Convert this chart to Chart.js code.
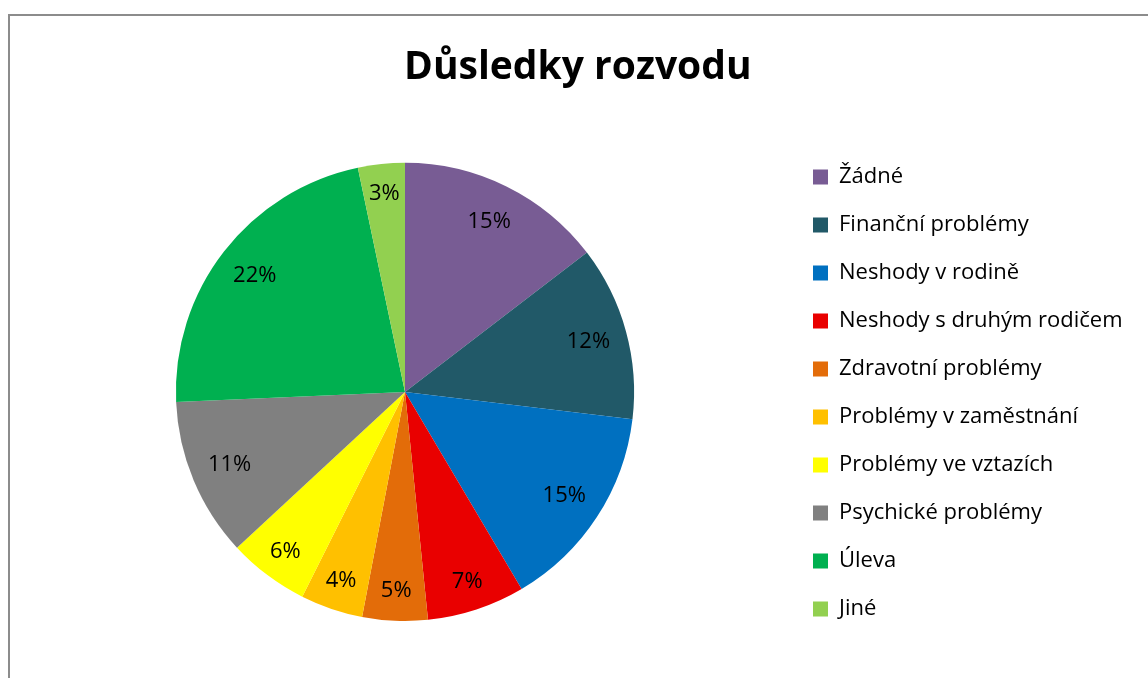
<!DOCTYPE html>
<html>
<head>
<meta charset="utf-8">
<title>Důsledky rozvodu</title>
<script src="https://cdn.jsdelivr.net/npm/chart.js@4.4.1/dist/chart.umd.min.js"></script>
<style>
  html, body { margin: 0; padding: 0; background: #fff; overflow: hidden; }
  #frame { position: absolute; left: 8px; top: 14px; width: 1200px; height: 800px; border: 2px solid #8c8c8c; }
  /* canvas runs past the window bottom so the full-height legend centres on the pie */
  #wrap { position: absolute; left: 0; top: 0; width: 1148px; height: 786px; }
</style>
</head>
<body>
<div id="frame"></div>
<div id="wrap"><canvas id="chart"></canvas></div>
<script>
  // categories + shares (percent)
  const labels = [
    'Žádné',
    'Finanční problémy',
    'Neshody v rodině',
    'Neshody s druhým rodičem',
    'Zdravotní problémy',
    'Problémy v zaměstnání',
    'Problémy ve vztazích',
    'Psychické problémy',
    'Úleva',
    'Jiné'
  ];
  const shares = [14.6, 12.3, 14.6, 6.9, 4.6, 4.4, 5.7, 11.2, 22.4, 3.3];
  const colors = [
    '#785c94', '#215968', '#0070c0', '#e90000', '#e36c09',
    '#ffc000', '#ffff00', '#808080', '#00b050', '#92d050'
  ];

  const family = "'Open Sans', 'Noto Sans', sans-serif";
  Chart.defaults.font.family = family;
  Chart.defaults.color = '#000';

  // ── legend geometry: measure the longest label so the boxes land at x≈813
  const legendFont = 22, legendPad = 26, boxW = 15;
  const mctx = document.createElement('canvas').getContext('2d');
  mctx.font = legendFont + 'px ' + family;
  const maxText = Math.max(...labels.map(t => mctx.measureText(t).width));
  const legendW = legendPad + boxW + legendFont / 2 + maxText + 10;
  const legendLeft = 813 - legendPad;
  const padRight = Math.max(0, 1148 - legendLeft - legendW);
  const padLeft = 2 * 405 - legendLeft;

  // ── percentage labels inside the slices (inside end, like Excel)
  const sliceLabels = {
    id: 'sliceLabels',
    afterDatasetsDraw(chart) {
      const ctx = chart.ctx;
      const meta = chart.getDatasetMeta(0);
      const total = shares.reduce((a, b) => a + b, 0);
      ctx.save();
      ctx.font = legendFont + 'px ' + family;
      ctx.fillStyle = '#000';
      ctx.textAlign = 'center';
      ctx.textBaseline = 'middle';
      meta.data.forEach((arc, i) => {
        const p = arc.getProps(['x', 'y', 'startAngle', 'endAngle', 'outerRadius'], true);
        const mid = (p.startAngle + p.endAngle) / 2;
        const span = p.endAngle - p.startAngle;
        const d = p.outerRadius * (span < 0.5 ? 0.87 : 0.83);
        ctx.fillText(Math.round(shares[i] / total * 100) + '%',
          p.x + Math.cos(mid) * d, p.y + Math.sin(mid) * d);
      });
      ctx.restore();
    }
  };

  new Chart(document.getElementById('chart'), {
    type: 'pie',
    data: {
      labels,
      datasets: [{
        data: shares,
        backgroundColor: colors,
        borderWidth: 0
      }]
    },
    options: {
      responsive: true,
      maintainAspectRatio: false,
      animation: false,
      layout: { padding: { left: padLeft, right: padRight, top: 0, bottom: 0 } },
      plugins: {
        title: {
          display: true,
          text: 'Důsledky rozvodu',
          color: '#000',
          font: { family, size: 39, weight: 'bold' },
          padding: { top: 44, bottom: 72 }
        },
        // empty spacer under the pie (not under the legend)
        subtitle: {
          display: true,
          text: '',
          position: 'bottom',
          fullSize: false,
          font: { size: 10 },
          padding: { top: 0, bottom: 153 }
        },
        legend: {
          position: 'right',
          fullSize: true,
          align: 'center',
          labels: {
            boxWidth: boxW,
            boxHeight: boxW,
            padding: legendPad,
            color: '#000',
            font: { family, size: legendFont }
          }
        },
        tooltip: { enabled: false }
      }
    },
    plugins: [sliceLabels]
  });
</script>
</body>
</html>
